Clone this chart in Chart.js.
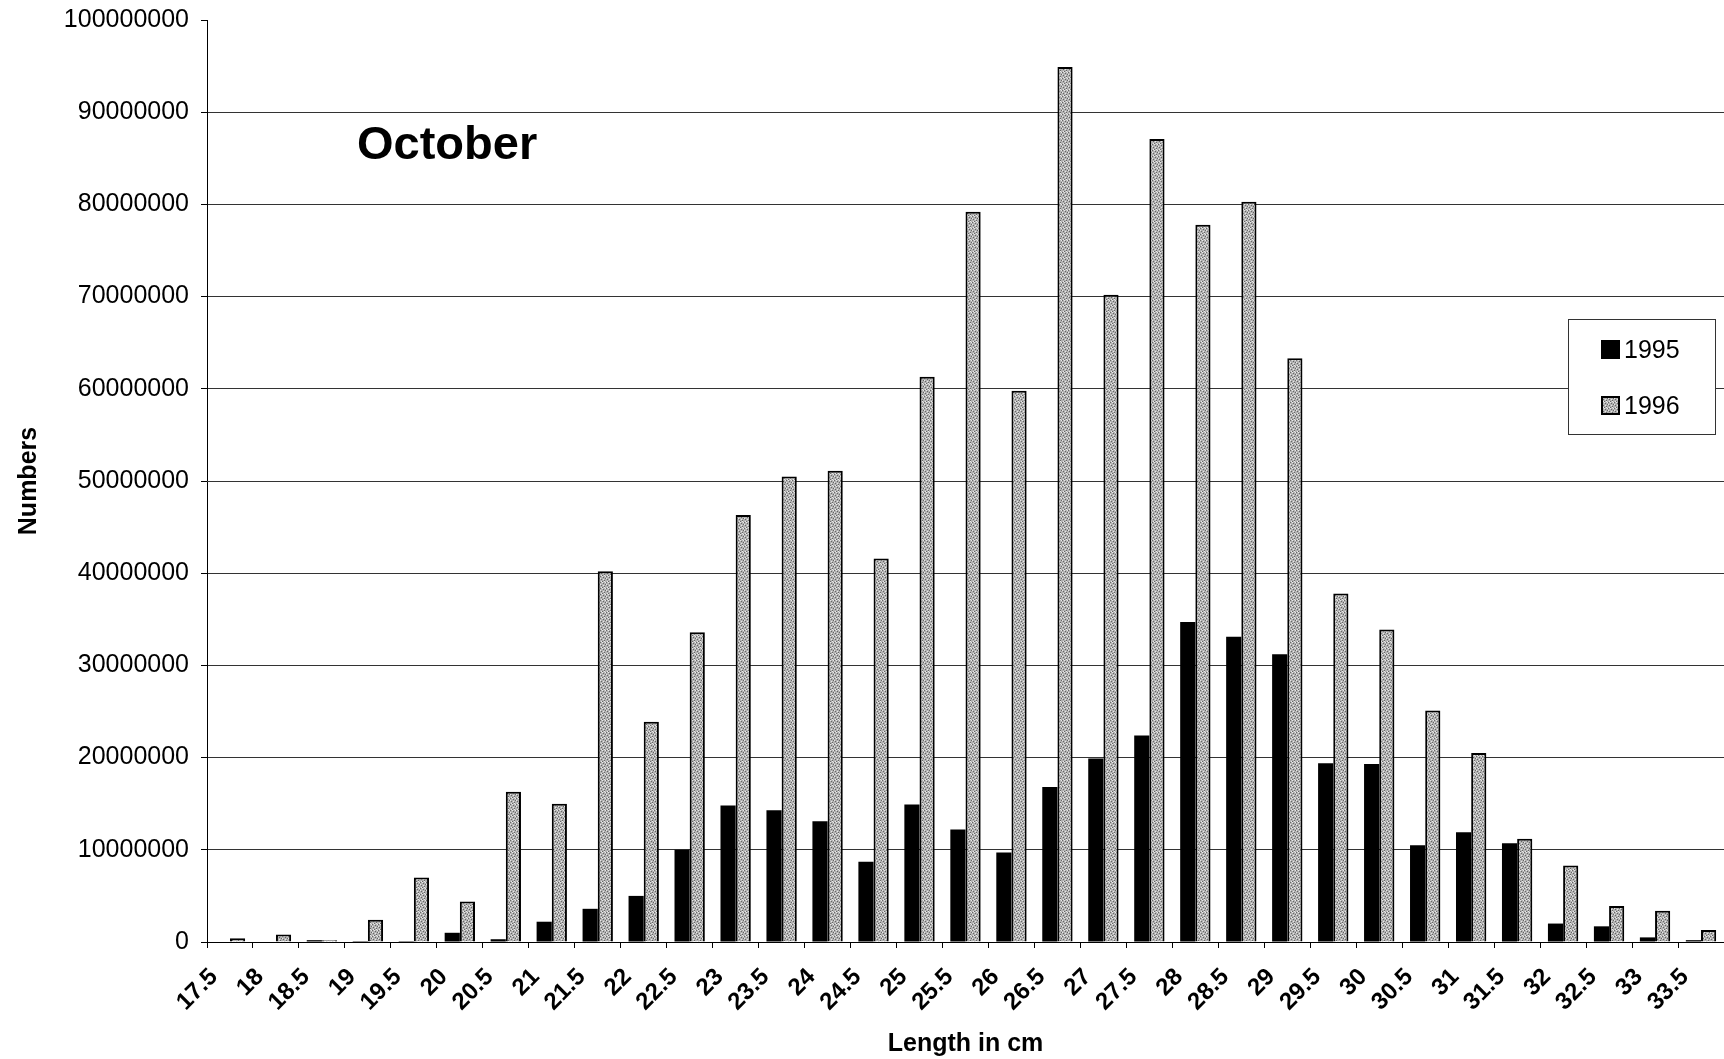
<!DOCTYPE html>
<html>
<head>
<meta charset="utf-8">
<title>October</title>
<script src="https://cdn.jsdelivr.net/npm/chart.js@4/dist/chart.umd.min.js"></script>
<style>
  html, body { margin: 0; padding: 0; background: #fff; overflow: hidden; }
  #wrap { width: 1724px; height: 1059px; }
</style>
</head>
<body>
<div id="wrap"><canvas id="grafica"></canvas></div>
<script>
const lengths = ['17.5','18','18.5','19','19.5','20','20.5','21','21.5','22','22.5','23','23.5','24','24.5','25','25.5','26','26.5','27','27.5','28','28.5','29','29.5','30','30.5','31','31.5','32','32.5','33','33.5']

const n1995 = [0, 0, 200000, 100000, 100000, 1000000, 300000, 2200000, 3600000, 5000000, 10000000,
	14800000, 14300000, 13100000, 8700000, 14900000, 12200000, 9700000, 16800000, 19900000, 22400000,
	34700000, 33100000, 31200000, 19400000, 19300000, 10500000, 11900000, 10700000, 2000000, 1700000,
	500000, 200000]

const n1996 = [400000, 800000, 200000, 2400000, 7000000, 4400000, 16300000, 15000000, 40200000, 23900000,
	33600000, 46300000, 50500000, 51100000, 41600000, 61300000, 79200000, 59800000, 94900000, 70200000,
	87100000, 77800000, 80300000, 63300000, 37800000, 33900000, 25100000, 20500000, 11200000, 8300000,
	3900000, 3400000, 1300000]

const yMax = 100000000
const yStep = 10000000

// speckled grey fill like the scanned bars
function speckle(){
	const c = document.createElement('canvas')
	c.width = 6; c.height = 6
	const x = c.getContext('2d')
	x.fillStyle = '#b2b2b2'
	x.fillRect(0, 0, 6, 6)
	x.fillStyle = '#666'
	const dots = [[0,0],[3,1],[1,3],[4,4],[5,2],[2,5]]
	dots.forEach(d => x.fillRect(d[0], d[1], 1, 1))
	x.fillStyle = '#e8e8e8'
	const lights = [[2,0],[5,0],[0,2],[3,3],[1,5],[4,5]]
	lights.forEach(d => x.fillRect(d[0], d[1], 1, 1))
	return x.createPattern(c, 'repeat')
}

const graph = document.querySelector('#grafica')
graph.width = 1724
graph.height = 1059

const FONT = "'Liberation Sans', Arial, sans-serif"

// "October" text inside the plot
const octoberLabel = {
	id: 'octoberLabel',
	afterDraw(chart){
		const ctx = chart.ctx
		ctx.save()
		ctx.font = 'bold 47px ' + FONT
		ctx.fillStyle = '#000'
		ctx.textBaseline = 'middle'
		ctx.fillText('October', 357, 146)
		ctx.restore()
	}
}

// boxed legend on the right, as in the original
const boxLegend = {
	id: 'boxLegend',
	afterDraw(chart){
		const ctx = chart.ctx
		ctx.save()
		ctx.fillStyle = '#fff'
		ctx.fillRect(1568, 319, 147, 115)
		ctx.strokeStyle = '#333'
		ctx.lineWidth = 1
		ctx.strokeRect(1568.5, 319.5, 147, 115)
		ctx.font = '25px ' + FONT
		ctx.textBaseline = 'middle'
		chart.data.datasets.forEach((ds, i) => {
			const y = 350 + i * 56
			ctx.fillStyle = ds.backgroundColor
			ctx.fillRect(1601, y - 10, 19, 19)
			ctx.strokeStyle = '#000'
			ctx.lineWidth = 2
			ctx.strokeRect(1602, y - 9, 17, 17)
			ctx.fillStyle = '#000'
			ctx.fillText(ds.label, 1624, y + 1)
		})
		ctx.restore()
	}
}

const data = {
	labels: lengths,
	datasets: [{
		label: '1995',
		data: n1995,
		backgroundColor: '#000',
		borderColor: '#000',
		borderWidth: 0
	}, {
		label: '1996',
		data: n1996,
		backgroundColor: speckle(),
		borderColor: '#000',
		borderWidth: 2
	}]
}

const config = {
	type: 'bar',
	data: data,
	plugins: [octoberLabel, boxLegend],
	options: {
		responsive: false,
		animation: false,
		layout: { padding: { top: 20, right: 0, left: 0, bottom: 0 } },
		categoryPercentage: 0.66,
		barPercentage: 1.0,
		plugins: {
			legend: { display: false },
			tooltip: { enabled: false }
		},
		scales: {
			x: {
				offset: true,
				grid: { display: true, drawOnChartArea: false, drawTicks: true, tickLength: 6, color: '#000', offset: true },
				border: { color: '#000', width: 1 },
				ticks: {
					minRotation: 45, maxRotation: 45, autoSkip: false,
					padding: 15, labelOffset: -16,
					color: '#000', font: { family: FONT, size: 24, weight: 'bold' }
				},
				title: {
					display: true, text: 'Length in cm', color: '#000',
					font: { family: FONT, size: 25, weight: 'bold' },
					padding: { top: 0, bottom: 0 }
				},
				afterFit(scale){
					scale.height = 117
					scale.paddingLeft = 0
					scale.paddingRight = 0
				}
			},
			y: {
				min: 0, max: yMax,
				grid: {
					color: c => (c.tick && c.tick.value === yMax) ? 'rgba(0,0,0,0)' : '#333',
					tickColor: '#000', tickLength: 6, lineWidth: 1
				},
				border: { color: '#000', width: 1 },
				ticks: {
					stepSize: yStep, padding: 12, color: '#000',
					font: { family: FONT, size: 25 },
					callback: v => String(v)
				},
				title: {
					display: true, text: 'Numbers', color: '#000',
					font: { family: FONT, size: 25, weight: 'bold' },
					padding: { top: 14, bottom: 0 }
				},
				afterFit(scale){
					scale.width = 207
					scale.paddingTop = 0
					scale.paddingBottom = 0
				}
			}
		}
	}
}

new Chart(graph, config)
</script>
</body>
</html>
